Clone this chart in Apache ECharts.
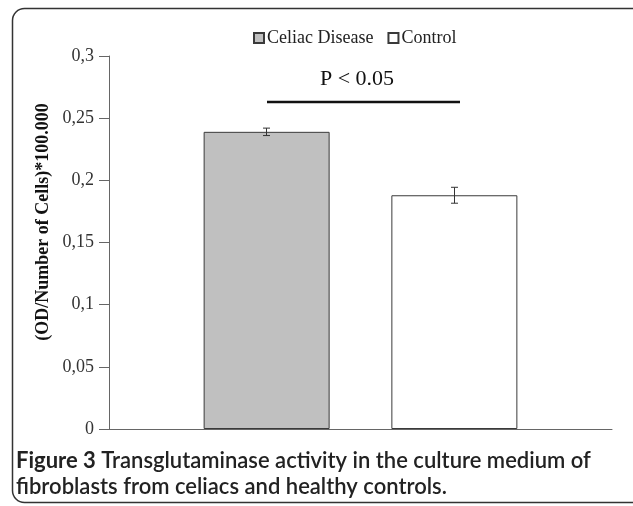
<!DOCTYPE html>
<html>
<head>
<meta charset="utf-8">
<script src="https://cdn.jsdelivr.net/npm/echarts@6/dist/echarts.min.js"></script>
<style>
html,body{margin:0;padding:0;background:#fff;}
#main{width:633px;height:506px;}
</style>
</head>
<body>
<div id="main"></div>
<script>
// ---- data ----
var categories = ['Group'];
var seriesNames = ['Celiac Disease', 'Control'];
var celiacValues = [0.239];
var controlValues = [0.188];
var celiacErrors = [0.003];
var controlErrors = [0.0064];
var yTicks = [0, 0.05, 0.1, 0.15, 0.2, 0.25, 0.3];
var yAxisName = '(OD/Number of Cells)*100.000';
var pLabel = 'P < 0.05';
var captionBold = 'Figure 3';
var captionLine1 = ' Transglutaminase activity in the culture medium of';
var captionLine2 = 'fibroblasts from celiacs and healthy controls.';

var chart = echarts.init(document.getElementById('main'), null, {renderer: 'canvas'});

var BAR_W = 126;
var BAR_OFFSET = 94;
var serif = '"Liberation Serif", "DejaVu Serif", serif';
var sans = 'Lato, "Open Sans", "Noto Sans", sans-serif';

function errorSeries(name, values, errors, sign) {
  return {
    type: 'custom',
    name: name + ' err',
    z: 5,
    silent: true,
    data: values.map(function (v, i) { return [i, v, errors[i]]; }),
    renderItem: function (params, api) {
      var c = api.value(0), v = api.value(1), e = api.value(2);
      var top = api.coord([c, v + e]);
      var bot = api.coord([c, v - e]);
      var x = top[0] + sign * BAR_OFFSET;
      var hw = 3.5;
      var st = {stroke: '#333', lineWidth: 1};
      return {
        type: 'group',
        children: [
          {type: 'line', shape: {x1: x, y1: top[1], x2: x, y2: bot[1]}, style: st},
          {type: 'line', shape: {x1: x - hw, y1: top[1], x2: x + hw, y2: top[1]}, style: st},
          {type: 'line', shape: {x1: x - hw, y1: bot[1], x2: x + hw, y2: bot[1]}, style: st}
        ]
      };
    }
  };
}

var option = {
  animation: false,
  backgroundColor: '#fff',
  legend: {
    data: [
      {name: seriesNames[0], icon: 'rect'},
      {name: seriesNames[1], icon: 'rect'}
    ],
    left: 248,
    top: 24,
    itemWidth: 10,
    itemHeight: 10,
    itemGap: 14,
    textStyle: {fontFamily: serif, fontSize: 18, color: '#222', padding: [0, 0, 0, -2]}
  },
  grid: {left: 109, right: 21, top: 56, bottom: 77, containLabel: false},
  xAxis: {
    type: 'category',
    data: categories,
    axisLine: {show: true, lineStyle: {color: '#666', width: 1}},
    axisTick: {show: false},
    axisLabel: {show: false}
  },
  yAxis: {
    type: 'value',
    min: 0,
    max: 0.3,
    interval: 0.05,
    axisLine: {show: true, lineStyle: {color: '#666', width: 1}},
    axisTick: {show: true, length: 10, lineStyle: {color: '#666'}},
    splitLine: {show: false},
    axisLabel: {
      fontFamily: serif,
      fontSize: 18,
      color: '#333',
      margin: 15,
      formatter: function (v) {
        var idx = yTicks.findIndex(function (t) { return Math.abs(t - v) < 1e-9; });
        var t = idx >= 0 ? yTicks[idx] : v;
        return String(+t.toFixed(2)).replace('.', ',');
      }
    }
  },
  series: [
    {
      type: 'bar',
      name: seriesNames[0],
      data: celiacValues,
      barWidth: BAR_W,
      barGap: '49%',
      itemStyle: {color: '#c0c0c0', borderColor: '#3a3a3a', borderWidth: 1}
    },
    {
      type: 'bar',
      name: seriesNames[1],
      data: controlValues,
      barWidth: BAR_W,
      barGap: '49%',
      itemStyle: {color: '#ffffff', borderColor: '#3a3a3a', borderWidth: 1}
    },
    errorSeries(seriesNames[0], celiacValues, celiacErrors, -1),
    errorSeries(seriesNames[1], controlValues, controlErrors, 1)
  ],
  graphic: [
    {
      type: 'rect',
      shape: {x: 12.5, y: 8.5, width: 660, height: 494, r: 12},
      style: {fill: null, stroke: '#333', lineWidth: 1.5},
      z: 100, silent: true
    },
    {
      type: 'text',
      x: 43, y: 222,
      rotation: Math.PI / 2,
      style: {
        text: yAxisName,
        font: 'bold 18px ' + serif,
        fill: '#111',
        align: 'center',
        verticalAlign: 'middle'
      }
    },
    {
      type: 'text',
      x: 357, y: 79,
      style: {
        text: pLabel,
        font: '22px ' + serif,
        fill: '#111',
        align: 'center',
        verticalAlign: 'middle'
      }
    },
    {
      type: 'line',
      shape: {x1: 267, y1: 102, x2: 460, y2: 102},
      style: {stroke: '#111', lineWidth: 2.5}
    },
    {
      type: 'text',
      x: 16, y: 461,
      style: {
        rich: {
          b: {font: 'bold 22px ' + sans, fill: '#222'},
          r: {font: '600 22px ' + sans, fill: '#222'}
        },
        text: '{b|' + captionBold + '}{r|' + captionLine1 + '}',
        verticalAlign: 'middle'
      }
    },
    {
      type: 'text',
      x: 16, y: 487,
      style: {
        text: captionLine2,
        font: '600 22px ' + sans,
        fill: '#222',
        verticalAlign: 'middle'
      }
    }
  ]
};
chart.setOption(option);
</script>
</body>
</html>
